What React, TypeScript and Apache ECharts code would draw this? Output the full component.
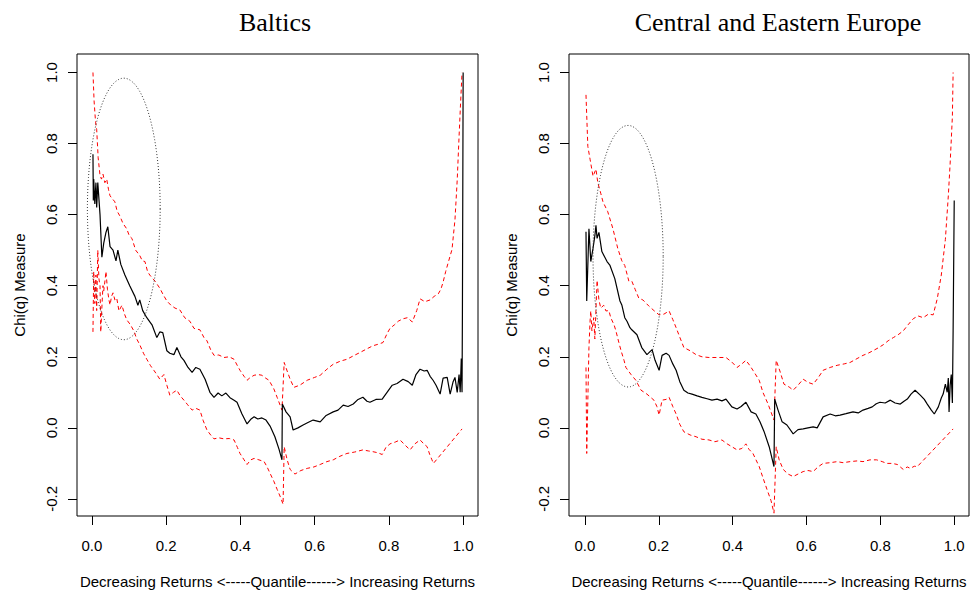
import React, { useEffect, useRef } from 'react';
import * as echarts from 'echarts';

const PANEL_TITLES = ['Baltics', 'Central and Eastern Europe'];
const X_TICKS = [0, 0.2, 0.4, 0.6, 0.8, 1.0];
const Y_TICKS = [-0.2, 0, 0.2, 0.4, 0.6, 0.8, 1.0];
const X_NAME = 'Decreasing Returns <-----Quantile------> Increasing Returns';
const Y_NAME = 'Chi(q) Measure';

// Baltics: [quantile, chi]
const balticsChi = [
  [0.003, 0.77], [0.004, 0.64], [0.005, 0.7], [0.008, 0.63], [0.011, 0.69], [0.013, 0.62],
  [0.016, 0.69], [0.022, 0.6], [0.027, 0.48], [0.032, 0.52], [0.038, 0.55], [0.043, 0.566],
  [0.049, 0.51], [0.057, 0.5], [0.065, 0.47], [0.07, 0.5], [0.078, 0.46], [0.089, 0.43],
  [0.102, 0.4], [0.116, 0.37], [0.124, 0.345], [0.129, 0.36], [0.137, 0.33], [0.148, 0.31],
  [0.162, 0.29], [0.175, 0.254], [0.183, 0.27], [0.191, 0.268], [0.202, 0.217], [0.21, 0.21],
  [0.221, 0.206], [0.229, 0.226], [0.24, 0.2], [0.248, 0.19], [0.259, 0.17], [0.27, 0.156],
  [0.28, 0.17], [0.291, 0.165], [0.305, 0.137], [0.318, 0.1], [0.329, 0.086], [0.34, 0.098],
  [0.35, 0.09], [0.361, 0.098], [0.372, 0.085], [0.383, 0.078], [0.391, 0.072], [0.404, 0.04],
  [0.418, 0.011], [0.429, 0.025], [0.437, 0.031], [0.447, 0.025], [0.458, 0.028], [0.469, 0.022],
  [0.48, 0.005], [0.493, -0.025], [0.504, -0.06], [0.512, -0.09], [0.513, 0.067], [0.523, 0.045],
  [0.534, 0.031], [0.542, -0.006], [0.555, 0.0], [0.569, 0.008], [0.582, 0.015], [0.596, 0.022],
  [0.615, 0.017], [0.631, 0.035], [0.65, 0.045], [0.663, 0.05], [0.677, 0.064], [0.69, 0.06],
  [0.704, 0.067], [0.717, 0.08], [0.73, 0.086], [0.741, 0.075], [0.749, 0.072], [0.765, 0.08],
  [0.782, 0.081], [0.795, 0.1], [0.809, 0.12], [0.822, 0.125], [0.838, 0.137], [0.852, 0.13],
  [0.863, 0.12], [0.873, 0.15], [0.884, 0.165], [0.895, 0.16], [0.903, 0.162], [0.911, 0.145],
  [0.919, 0.134], [0.927, 0.12], [0.938, 0.095], [0.946, 0.14], [0.957, 0.142], [0.965, 0.095],
  [0.973, 0.13], [0.978, 0.142], [0.984, 0.1], [0.989, 0.15], [0.992, 0.1], [0.995, 0.195],
  [0.997, 0.1], [0.998, 0.318], [1.0, 1.0],
];

const balticsUpper = [
  [0.003, 1.0], [0.006, 0.92], [0.01, 0.86], [0.013, 0.84], [0.017, 0.76], [0.022, 0.71],
  [0.026, 0.7], [0.03, 0.714], [0.035, 0.69], [0.04, 0.7], [0.045, 0.67], [0.049, 0.653],
  [0.055, 0.645], [0.062, 0.636], [0.068, 0.61], [0.075, 0.597], [0.084, 0.575], [0.094, 0.56],
  [0.101, 0.54], [0.108, 0.533], [0.118, 0.5], [0.129, 0.485], [0.136, 0.47], [0.143, 0.468],
  [0.15, 0.44], [0.156, 0.43], [0.17, 0.413], [0.183, 0.393], [0.192, 0.375], [0.202, 0.357],
  [0.213, 0.345], [0.224, 0.337], [0.237, 0.332], [0.25, 0.31], [0.264, 0.3], [0.275, 0.28],
  [0.291, 0.276], [0.302, 0.254], [0.31, 0.245], [0.32, 0.22], [0.329, 0.204], [0.342, 0.205],
  [0.356, 0.198], [0.37, 0.2], [0.383, 0.193], [0.392, 0.175], [0.399, 0.162], [0.41, 0.145],
  [0.418, 0.134], [0.427, 0.142], [0.437, 0.148], [0.448, 0.15], [0.458, 0.148], [0.468, 0.14],
  [0.477, 0.134], [0.49, 0.11], [0.499, 0.086], [0.512, 0.05], [0.518, 0.184], [0.526, 0.16],
  [0.534, 0.137], [0.544, 0.114], [0.56, 0.12], [0.58, 0.134], [0.6, 0.142], [0.615, 0.148],
  [0.633, 0.165], [0.65, 0.179], [0.67, 0.188], [0.687, 0.193], [0.705, 0.203], [0.722, 0.212],
  [0.74, 0.222], [0.757, 0.231], [0.77, 0.235], [0.784, 0.24], [0.795, 0.265], [0.803, 0.28],
  [0.815, 0.29], [0.825, 0.3], [0.838, 0.307], [0.85, 0.31], [0.863, 0.298], [0.875, 0.33],
  [0.884, 0.363], [0.897, 0.355], [0.911, 0.36], [0.922, 0.37], [0.933, 0.377], [0.94, 0.39],
  [0.946, 0.41], [0.953, 0.44], [0.96, 0.466], [0.97, 0.502], [0.978, 0.586], [0.984, 0.697],
  [0.989, 0.82], [0.993, 0.912], [0.997, 1.0],
];

const balticsLower = [
  [0.003, 0.27], [0.005, 0.44], [0.008, 0.35], [0.011, 0.43], [0.013, 0.33], [0.016, 0.5],
  [0.019, 0.42], [0.022, 0.4], [0.024, 0.27], [0.028, 0.36], [0.03, 0.4], [0.032, 0.385],
  [0.036, 0.42], [0.038, 0.44], [0.042, 0.39], [0.046, 0.36], [0.049, 0.346], [0.053, 0.37],
  [0.057, 0.38], [0.062, 0.36], [0.067, 0.365], [0.073, 0.329], [0.081, 0.345], [0.088, 0.32],
  [0.094, 0.304], [0.104, 0.29], [0.113, 0.273], [0.121, 0.25], [0.129, 0.234], [0.139, 0.21],
  [0.148, 0.193], [0.158, 0.175], [0.167, 0.162], [0.175, 0.15], [0.183, 0.137], [0.194, 0.15],
  [0.202, 0.12], [0.21, 0.092], [0.22, 0.1], [0.229, 0.106], [0.238, 0.09], [0.248, 0.078],
  [0.258, 0.065], [0.27, 0.05], [0.28, 0.055], [0.291, 0.05], [0.3, 0.02], [0.31, -0.006],
  [0.32, -0.02], [0.329, -0.031], [0.342, -0.028], [0.356, -0.031], [0.37, -0.03], [0.383, -0.034],
  [0.392, -0.055], [0.399, -0.072], [0.41, -0.09], [0.418, -0.103], [0.428, -0.09], [0.437, -0.086],
  [0.45, -0.09], [0.464, -0.095], [0.472, -0.11], [0.48, -0.128], [0.49, -0.15], [0.499, -0.173],
  [0.508, -0.195], [0.515, -0.215], [0.518, -0.053], [0.526, -0.09], [0.534, -0.117], [0.547, -0.13],
  [0.563, -0.12], [0.58, -0.114], [0.598, -0.11], [0.615, -0.103], [0.633, -0.095], [0.65, -0.09],
  [0.668, -0.08], [0.687, -0.072], [0.708, -0.068], [0.73, -0.062], [0.745, -0.065], [0.757, -0.067],
  [0.77, -0.07], [0.782, -0.075], [0.792, -0.055], [0.803, -0.045], [0.817, -0.04], [0.83, -0.034],
  [0.845, -0.05], [0.857, -0.062], [0.87, -0.045], [0.884, -0.034], [0.894, -0.045], [0.903, -0.053],
  [0.91, -0.075], [0.916, -0.09], [0.92, -0.1], [0.997, -0.003],
];

// Central and Eastern Europe
const ceeChi = [
  [0.003, 0.552], [0.005, 0.357], [0.011, 0.56], [0.016, 0.468], [0.022, 0.505], [0.027, 0.54],
  [0.03, 0.57], [0.033, 0.533], [0.038, 0.55], [0.046, 0.496], [0.06, 0.468], [0.068, 0.457],
  [0.081, 0.42], [0.095, 0.357], [0.1, 0.346], [0.108, 0.31], [0.114, 0.3], [0.122, 0.282],
  [0.127, 0.276], [0.141, 0.262], [0.154, 0.226], [0.168, 0.206], [0.182, 0.22], [0.19, 0.19],
  [0.201, 0.162], [0.209, 0.204], [0.22, 0.21], [0.228, 0.204], [0.238, 0.18], [0.247, 0.162],
  [0.257, 0.13], [0.268, 0.106], [0.279, 0.098], [0.29, 0.095], [0.304, 0.09], [0.317, 0.086],
  [0.331, 0.082], [0.344, 0.078], [0.358, 0.081], [0.371, 0.076], [0.382, 0.081], [0.398, 0.059],
  [0.412, 0.053], [0.423, 0.06], [0.436, 0.072], [0.45, 0.045], [0.463, 0.039], [0.474, 0.017],
  [0.485, -0.01], [0.499, -0.053], [0.512, -0.109], [0.514, 0.081], [0.523, 0.05], [0.534, 0.017],
  [0.547, 0.008], [0.564, -0.017], [0.577, -0.005], [0.591, -0.003], [0.604, 0.0], [0.618, 0.003],
  [0.629, 0.0], [0.645, 0.031], [0.664, 0.039], [0.678, 0.034], [0.691, 0.036], [0.707, 0.04],
  [0.726, 0.045], [0.74, 0.042], [0.753, 0.05], [0.767, 0.055], [0.778, 0.059], [0.789, 0.068],
  [0.799, 0.072], [0.813, 0.07], [0.827, 0.078], [0.84, 0.07], [0.854, 0.067], [0.864, 0.075],
  [0.873, 0.081], [0.883, 0.095], [0.894, 0.106], [0.908, 0.092], [0.919, 0.08], [0.927, 0.067],
  [0.938, 0.05], [0.946, 0.039], [0.957, 0.059], [0.965, 0.084], [0.97, 0.095], [0.976, 0.123],
  [0.981, 0.1], [0.984, 0.14], [0.986, 0.045], [0.989, 0.12], [0.992, 0.15], [0.995, 0.07],
  [0.997, 0.273], [1.0, 0.64],
];

const ceeUpper = [
  [0.003, 0.937], [0.008, 0.792], [0.014, 0.756], [0.022, 0.708], [0.03, 0.728], [0.035, 0.69],
  [0.043, 0.66], [0.049, 0.636], [0.062, 0.608], [0.076, 0.56], [0.089, 0.505], [0.1, 0.47],
  [0.108, 0.457], [0.119, 0.413], [0.127, 0.413], [0.136, 0.39], [0.146, 0.365], [0.157, 0.36],
  [0.173, 0.343], [0.187, 0.33], [0.201, 0.318], [0.214, 0.32], [0.228, 0.329], [0.238, 0.305],
  [0.247, 0.282], [0.257, 0.255], [0.268, 0.226], [0.285, 0.217], [0.301, 0.206], [0.317, 0.2],
  [0.336, 0.198], [0.358, 0.198], [0.382, 0.198], [0.398, 0.185], [0.412, 0.17], [0.425, 0.18],
  [0.436, 0.19], [0.447, 0.175], [0.455, 0.162], [0.472, 0.134], [0.482, 0.1], [0.496, 0.067],
  [0.512, 0.022], [0.518, 0.19], [0.528, 0.16], [0.539, 0.123], [0.553, 0.115], [0.564, 0.106],
  [0.577, 0.12], [0.591, 0.137], [0.604, 0.128], [0.618, 0.123], [0.631, 0.14], [0.645, 0.162],
  [0.664, 0.17], [0.683, 0.176], [0.702, 0.18], [0.718, 0.184], [0.737, 0.195], [0.753, 0.204],
  [0.767, 0.21], [0.78, 0.217], [0.794, 0.225], [0.808, 0.234], [0.821, 0.245], [0.835, 0.254],
  [0.848, 0.262], [0.862, 0.273], [0.875, 0.29], [0.889, 0.307], [0.902, 0.315], [0.916, 0.31],
  [0.93, 0.32], [0.943, 0.318], [0.954, 0.363], [0.965, 0.43], [0.976, 0.53], [0.984, 0.653],
  [0.989, 0.745], [0.995, 0.876], [0.997, 1.0],
];

const ceeLower = [
  [0.003, 0.17], [0.005, -0.072], [0.011, 0.226], [0.014, 0.3], [0.016, 0.329], [0.019, 0.273],
  [0.024, 0.31], [0.027, 0.25], [0.033, 0.415], [0.038, 0.36], [0.043, 0.337], [0.051, 0.345],
  [0.057, 0.329], [0.065, 0.33], [0.07, 0.31], [0.079, 0.29], [0.084, 0.273], [0.092, 0.24],
  [0.098, 0.217], [0.106, 0.19], [0.111, 0.17], [0.125, 0.15], [0.138, 0.134], [0.152, 0.106],
  [0.168, 0.095], [0.179, 0.085], [0.187, 0.078], [0.195, 0.06], [0.201, 0.036], [0.209, 0.078],
  [0.22, 0.08], [0.228, 0.086], [0.238, 0.06], [0.247, 0.039], [0.257, 0.01], [0.268, -0.011],
  [0.285, -0.02], [0.301, -0.025], [0.317, -0.032], [0.336, -0.034], [0.352, -0.039], [0.371, -0.034],
  [0.385, -0.045], [0.398, -0.053], [0.412, -0.062], [0.425, -0.058], [0.436, -0.045], [0.444, -0.06],
  [0.455, -0.072], [0.472, -0.109], [0.482, -0.14], [0.493, -0.173], [0.504, -0.205], [0.512, -0.24],
  [0.518, -0.053], [0.526, -0.09], [0.537, -0.117], [0.55, -0.13], [0.564, -0.137], [0.577, -0.13],
  [0.591, -0.123], [0.604, -0.12], [0.618, -0.123], [0.631, -0.11], [0.645, -0.1], [0.664, -0.098],
  [0.683, -0.095], [0.699, -0.098], [0.718, -0.095], [0.737, -0.093], [0.753, -0.095], [0.772, -0.09],
  [0.79, -0.09], [0.805, -0.095], [0.818, -0.1], [0.832, -0.1], [0.846, -0.103], [0.862, -0.117],
  [0.873, -0.11], [0.881, -0.114], [0.892, -0.108], [0.9, -0.109], [0.997, -0.003],
];

// highlighted region: [centre x, centre y, radius x, radius y]
const balticsEllipse = [0.086, 0.616, 0.098, 0.368];
const ceeEllipse = [0.117, 0.483, 0.095, 0.368];

function ellipsePoints(e: number[]) {
  const pts: number[][] = [];
  for (let i = 0; i <= 180; i++) {
    const t = (i / 180) * Math.PI * 2;
    pts.push([e[0] + e[2] * Math.cos(t), e[1] + e[3] * Math.sin(t)]);
  }
  return pts;
}

const SANS = 'Liberation Sans, Arial, sans-serif';

export default function App() {
  const chartRef = useRef<HTMLDivElement>(null);

  useEffect(() => {
    if (!chartRef.current) return;
    const chart = echarts.init(chartRef.current, null, { renderer: 'svg' });

    const grids = [
      { left: 77, top: 54, width: 401, height: 466 },
      { left: 569, top: 54, width: 400, height: 466 },
    ];
    const xRanges = [
      [-0.04, 1.04],
      [-0.043, 1.04],
    ];

    const panels = [
      { chi: balticsChi, upper: balticsUpper, lower: balticsLower, ell: balticsEllipse },
      { chi: ceeChi, upper: ceeUpper, lower: ceeLower, ell: ceeEllipse },
    ];

    const series: any[] = [];
    panels.forEach((p, i) => {
      const common = {
        type: 'line',
        xAxisIndex: i,
        yAxisIndex: i,
        showSymbol: false,
        symbol: 'none',
        silent: true,
      };
      series.push({
        ...common,
        name: 'upper',
        data: p.upper,
        lineStyle: { color: '#ff0000', width: 1, type: [4, 3] },
      });
      series.push({
        ...common,
        name: 'lower',
        data: p.lower,
        lineStyle: { color: '#ff0000', width: 1, type: [4, 3] },
      });
      series.push({
        ...common,
        name: 'chi',
        data: p.chi,
        lineStyle: { color: '#000000', width: 1.2 },
      });
      series.push({
        ...common,
        name: 'ellipse',
        data: ellipsePoints(p.ell),
        lineStyle: { color: '#333333', width: 1, type: [1, 2] },
      });
    });

    const option = {
      animation: false,
      backgroundColor: '#ffffff',
      title: PANEL_TITLES.map((t, i) => ({
        text: t,
        left: i === 0 ? 270 : 773,
        top: 4,
        textAlign: 'center',
        textStyle: {
          fontFamily: 'Liberation Serif, Times New Roman, serif',
          fontSize: 26,
          fontWeight: 'normal',
          color: '#000',
        },
      })),
      grid: grids.map((g) => ({
        ...g,
        show: true,
        borderColor: '#000',
        borderWidth: 1,
        backgroundColor: 'transparent',
      })),
      xAxis: grids.map((_, i) => ({
        type: 'value',
        gridIndex: i,
        min: xRanges[i][0],
        max: xRanges[i][1],
        name: X_NAME,
        nameLocation: 'middle',
        nameGap: 58,
        nameTextStyle: { fontFamily: SANS, fontSize: 15, color: '#000' },
        axisLine: { show: false, onZero: false },
        splitLine: { show: false },
        axisTick: {
          show: true,
          length: 9,
          customValues: X_TICKS,
          lineStyle: { color: '#000', width: 1 },
        },
        axisLabel: {
          customValues: X_TICKS,
          margin: 22,
          fontFamily: SANS,
          fontSize: 15,
          color: '#000',
          formatter: (v: number) => v.toFixed(1),
        },
      })),
      yAxis: grids.map((_, i) => ({
        type: 'value',
        gridIndex: i,
        min: -0.248,
        max: 1.052,
        name: Y_NAME,
        nameLocation: 'middle',
        nameRotate: 90,
        nameGap: 50,
        nameTextStyle: { fontFamily: SANS, fontSize: 15, color: '#000' },
        axisLine: { show: false, onZero: false },
        splitLine: { show: false },
        axisTick: {
          show: true,
          length: 9,
          customValues: Y_TICKS,
          lineStyle: { color: '#000', width: 1 },
        },
        axisLabel: {
          customValues: Y_TICKS,
          rotate: 90,
          margin: 18,
          fontFamily: SANS,
          fontSize: 15,
          color: '#000',
          formatter: (v: number) => v.toFixed(1),
        },
      })),
      series,
    };

    chart.setOption(option);
    return () => {
      chart.dispose();
    };
  }, []);

  return <div ref={chartRef} style={{ width: 972, height: 594, position: 'absolute', left: 0, top: 0 }} />;
}
